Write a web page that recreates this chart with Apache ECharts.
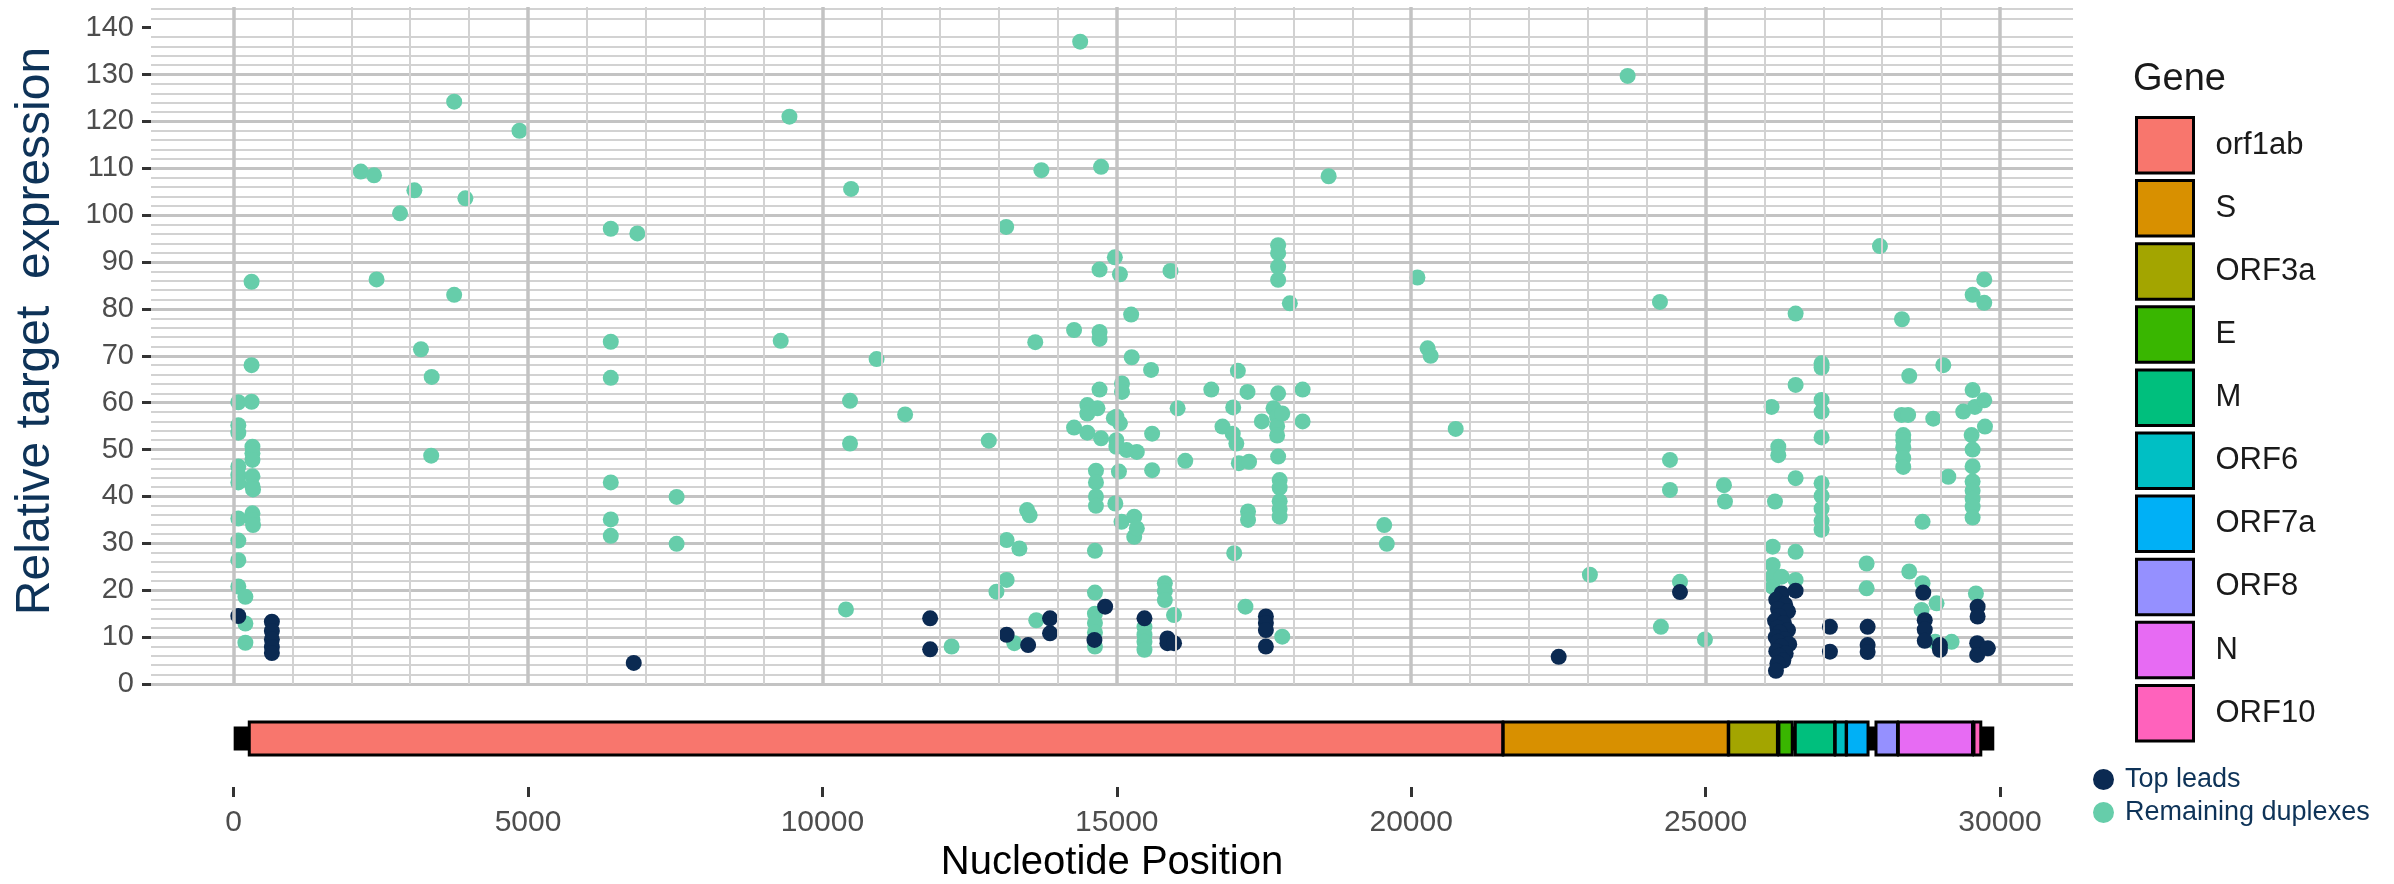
<!DOCTYPE html>
<html><head><meta charset="utf-8">
<script src="https://cdn.jsdelivr.net/npm/echarts@6/dist/echarts.min.js"></script>
<style>html,body{margin:0;padding:0;background:#fff}#c{width:2394px;height:884px}</style>
</head><body><div id="c"></div>
<script>
// ---------------- data ----------------
const geneNames  = ['orf1ab','S','ORF3a','E','M','ORF6','ORF7a','ORF8','N','ORF10'];
const geneStart  = [266, 21563, 25393, 26245, 26523, 27202, 27394, 27894, 28274, 29558];
const geneEnd    = [21555, 25384, 26220, 26472, 27191, 27387, 27759, 28259, 29533, 29674];
const geneColors = ['#F8766D','#D89000','#A3A500','#39B600','#00BF7D','#00BFC4','#00B0F6','#9590FF','#E76BF3','#FF62BC'];
const genomeSpan = [1, 29903];
const xTicks = [0, 5000, 10000, 15000, 20000, 25000, 30000];
const yTicks = [0, 10, 20, 30, 40, 50, 60, 70, 80, 90, 100, 110, 120, 130, 140];

// Top leads (navy)
const leadPos  = [80, 650, 650, 650, 650, 650, 6796,
  11830, 11830, 13129, 13494, 13866, 13866, 14620, 14802, 15470, 15860, 15860, 15972,
  17532, 17532, 17532, 17532, 22505, 24565,
  26290, 26200, 26350, 26230, 26400, 26250, 26180, 26330, 26220, 26400, 26260, 26190, 26350, 26230, 26420, 26280, 26200, 26360, 26250, 26320, 26220, 26195, 26529,
  27112, 27112, 27752, 27752, 27752, 28697, 28722, 28722, 28722, 28980, 28980,
  29620, 29620, 29613, 29613, 29794];
const leadExpr = [14.5, 13.3, 11.3, 9.5, 7.9, 6.6, 4.5,
  14.0, 7.4, 10.5, 8.3, 14.0, 10.8, 9.4, 16.5, 14.0, 9.7, 8.7, 8.7,
  14.4, 13.0, 11.5, 8.0, 5.8, 19.6,
  19.3, 18.0, 17.0, 16.0, 15.5, 14.5, 13.5, 13.0, 12.0, 11.5, 11.0, 10.0, 9.5, 9.0, 8.5, 8.0, 7.0, 6.5, 6.0, 5.0, 4.4, 2.8, 19.9,
  12.2, 6.9, 12.2, 8.3, 6.8, 19.5, 13.6, 11.6, 9.2, 8.3, 7.3,
  16.5, 14.4, 8.7, 6.2, 7.6];

// Remaining duplexes (teal)
const dupPos = [
  80, 80, 80, 80, 80, 80, 80, 80, 80, 80,
  200, 200, 200,
  305, 305, 305, 320, 320, 320, 320, 320, 330, 320, 320, 330,
  2160, 2385, 2428, 2827, 3070, 3182, 3364, 3356, 3746, 3746, 3936, 4855,
  6406, 6857, 6406, 6406, 6406, 6406, 6406, 7524, 7524,
  9292, 9440, 10487, 10469, 10469, 10400, 10920, 11405,
  12194, 12826, 12956, 13129, 13121, 13129, 13346, 13259, 13476, 13520, 13615, 13719, 13632,
  14378, 14274, 14274, 14499, 14499, 14499, 14672, 14707, 14707, 14707, 14707, 14733, 14733,
  14646, 14646, 14646, 14646, 14629, 14629, 14629, 14629, 14629, 14629,
  14950, 14993, 14993, 14993, 15053, 15053, 14967, 15088, 15088, 15036, 14975, 15080, 15166,
  15244, 15253, 15296, 15296, 15340, 15340, 15470, 15470, 15470, 15470, 15582, 15600, 15600,
  15816, 15816, 15816, 15912, 15972, 16033, 16163,
  16605, 16795, 16969, 16977, 17030, 17056, 17073, 16994, 17220, 17246, 17229, 17229, 17185,
  17463, 17662, 17723, 17723, 17723, 17740, 17740, 17740, 17740, 17740, 17740,
  17766, 17766, 17766, 17766, 17766, 17810, 17810, 17939, 18156, 18156, 18598,
  19542, 19586, 20106, 20279, 20330, 20756, 23035, 23676,
  24225, 24395, 24395, 24565, 24241, 24989, 25312, 25329,
  26121, 26235, 26235, 26529, 26529, 26529, 26178, 26139, 26529, 26139, 26139, 26139, 26291, 26529,
  26970, 26970, 26970, 26970, 26970, 26970, 26970, 26970, 26970, 26970,
  27735, 27735, 27961, 28335, 28459, 28329, 28440, 28357, 28357, 28357, 28357, 28357, 28459,
  28685, 28685, 28668, 28867, 28923, 28900, 29037, 29122, 29178,
  29376, 29518, 29535, 29535, 29574, 29535, 29535, 29535, 29535, 29535, 29535, 29535, 29591,
  29733, 29733, 29733, 29745];
const dupExpr = [
  60.1, 55.2, 53.6, 46.4, 44.6, 43.0, 35.3, 30.6, 26.4, 20.8,
  18.6, 12.9, 8.8,
  85.8, 68.0, 60.2, 50.6, 49.2, 47.8, 44.3, 42.2, 41.5, 36.4, 35.0, 33.9,
  109.3, 108.5, 86.3, 100.4, 105.3, 71.4, 65.5, 48.7, 124.2, 83.0, 103.6, 118.0,
  97.1, 96.1, 73.0, 65.3, 43.0, 35.1, 31.6, 39.9, 29.9,
  73.2, 121.0, 105.6, 60.4, 51.3, 15.9, 69.3, 57.5,
  8.0, 51.9, 19.7, 22.2, 97.5, 30.7, 28.9, 8.7, 37.1, 36.0, 72.9, 109.6, 13.6,
  137.0, 75.5, 54.7, 59.5, 57.7, 53.6, 58.8, 88.4, 75.1, 73.6, 62.8, 110.3, 52.4,
  45.5, 43.0, 40.0, 38.0, 28.4, 19.5, 15.0, 13.0, 11.0, 8.0,
  56.7, 57.0, 52.0, 50.6, 55.6, 87.4, 91.0, 64.1, 62.3, 45.3, 38.5, 34.6, 49.9,
  78.8, 69.7, 35.7, 31.4, 49.5, 33.2, 12.2, 10.5, 9.0, 7.3, 67.0, 53.4, 45.6,
  21.5, 19.8, 17.9, 88.1, 14.7, 58.8, 47.6,
  62.8, 54.9, 53.4, 59.0, 51.3, 66.8, 47.1, 27.9, 62.3, 47.4, 36.8, 35.0, 16.5,
  56.0, 58.8, 57.0, 55.0, 53.0, 93.6, 91.9, 89.0, 86.2, 62.0, 48.5,
  43.5, 41.9, 39.0, 37.3, 35.7, 57.7, 10.1, 81.2, 62.8, 56.0, 108.3,
  33.9, 29.9, 86.7, 71.6, 70.0, 54.4, 23.3, 129.7,
  81.5, 47.8, 41.4, 21.8, 12.2, 9.5, 42.4, 38.9,
  59.1, 50.6, 48.8, 79.0, 63.8, 43.9, 38.9, 29.3, 28.2, 25.4, 22.9, 20.7, 22.9, 22.2,
  68.4, 67.5, 60.6, 58.1, 52.6, 42.8, 40.1, 37.4, 34.8, 32.9,
  25.7, 20.4, 93.4, 77.8, 65.7, 57.4, 57.4, 53.1, 52.0, 50.5, 48.2, 46.3, 24.0,
  34.6, 21.5, 15.8, 56.6, 17.2, 9.0, 68.0, 44.2, 9.0,
  58.1, 53.1, 83.0, 62.7, 59.1, 50.0, 46.4, 43.2, 41.2, 39.5, 37.8, 35.5, 19.3,
  86.3, 81.3, 60.5, 54.9];

// ---------------- chart ----------------
const FONT = '"Liberation Sans", Arial, Helvetica, sans-serif';
const NAVY = '#0b2a52', TEAL = '#66cdaa', TITLE_NAVY = '#0e3358';
const X_MIN = -1403, X_MAX = 31240;

const pairs = (xs, ys) => xs.map((x, i) => [x, ys[i]]);

// vertical grid lines (major at xTicks, minor every fifth between them)
const vMajor = xTicks.map(v => ({ xAxis: v, lineStyle: { color: '#c3c3c3', width: 3.5 } }));
const vMinor = [];
for (let i = 1; i < xTicks.length; i++) {
  const step = (xTicks[i] - xTicks[i - 1]) / 5;
  for (let k = 1; k < 5; k++) vMinor.push({ xAxis: xTicks[i - 1] + k * step, lineStyle: { color: '#d2d2d2', width: 2 } });
}

function trackRect(h) {
  return function (params, api) {
    const a = api.coord([api.value(0), 0.5]);
    const b = api.coord([api.value(1), 0.5]);
    return { type: 'rect', shape: { x: a[0], y: a[1] - h / 2, width: b[0] - a[0], height: h }, style: api.style() };
  };
}

const series = [
  { // grid lines holder
    type: 'scatter', xAxisIndex: 0, yAxisIndex: 0, data: [], z: 1, silent: true,
    markLine: { silent: true, symbol: ['none', 'none'], label: { show: false }, animation: false,
      lineStyle: { type: 'solid' }, data: vMinor.concat(vMajor) }
  },
  { name: 'Remaining duplexes', type: 'scatter', xAxisIndex: 0, yAxisIndex: 0, z: 3,
    symbol: 'circle', symbolSize: 16, itemStyle: { color: TEAL, opacity: 1 },
    data: pairs(dupPos, dupExpr) },
  { name: 'Top leads', type: 'scatter', xAxisIndex: 0, yAxisIndex: 0, z: 4,
    symbol: 'circle', symbolSize: 16, itemStyle: { color: NAVY, opacity: 1 },
    data: pairs(leadPos, leadExpr) },
  { name: 'genome', type: 'custom', xAxisIndex: 1, yAxisIndex: 1, z: 2,
    renderItem: trackRect(24), itemStyle: { color: '#000' },
    encode: { x: [0, 1] }, data: [genomeSpan] }
];
geneNames.forEach((g, i) => {
  series.push({
    name: g, type: 'custom', xAxisIndex: 1, yAxisIndex: 1, z: 3,
    renderItem: trackRect(33),
    itemStyle: { color: geneColors[i], borderColor: '#000', borderWidth: 3 },
    encode: { x: [0, 1] },
    data: [[geneStart[i], geneEnd[i]]]
  });
});

const option = {
  animation: false,
  backgroundColor: '#ffffff',
  textStyle: { fontFamily: FONT },
  title: { text: 'Gene', left: 2133, top: 61, padding: 0,
    textStyle: { fontSize: 38, fontWeight: 'normal', color: '#1a1a1a', fontFamily: FONT } },
  grid: [
    { left: 151, right: 321, top: 7, height: 677, containLabel: false },
    { left: 151, right: 321, top: 690, height: 100, containLabel: false }
  ],
  xAxis: [
    { type: 'value', gridIndex: 0, min: X_MIN, max: X_MAX,
      axisLine: { show: false, onZero: false }, axisTick: { show: false }, axisLabel: { show: false },
      splitLine: { show: false } },
    { type: 'value', gridIndex: 1, min: X_MIN, max: X_MAX,
      name: 'Nucleotide Position', nameLocation: 'middle', nameGap: 56,
      nameTextStyle: { fontSize: 40, color: '#000', fontFamily: FONT },
      axisLine: { show: false, onZero: false },
      axisTick: { show: true, length: 10, lineStyle: { color: '#333', width: 3 }, customValues: xTicks },
      axisLabel: { fontSize: 30, color: '#4d4d4d', margin: 21, customValues: xTicks,
        formatter: v => (xTicks.indexOf(v) >= 0 ? String(v) : '') },
      splitLine: { show: false } }
  ],
  yAxis: [
    { type: 'value', gridIndex: 0, min: 0, max: 144.4, interval: 10,
      axisLine: { show: false, onZero: false },
      axisTick: { show: true, length: 9, lineStyle: { color: '#333', width: 3 }, customValues: yTicks },
      axisLabel: { fontSize: 29, color: '#4d4d4d', margin: 17, customValues: yTicks,
        formatter: v => (yTicks.indexOf(v) >= 0 ? String(v) : '') },
      splitLine: { show: true, showMaxLine: false, lineStyle: { color: '#c3c3c3', width: 3 } },
      minorTick: { show: false, splitNumber: 5 },
      minorSplitLine: { show: true, lineStyle: { color: '#d2d2d2', width: 2 } } },
    { type: 'value', gridIndex: 1, min: 0, max: 1, show: false }
  ],
  legend: [
    { data: geneNames.map(n => ({ name: n, icon: 'rect' })),
      orient: 'vertical', left: 2135, top: 116, padding: 0,
      itemWidth: 57, itemHeight: 55.5, itemGap: 4.6, selectedMode: false,
      itemStyle: { borderColor: '#000', borderWidth: 3 },
      textStyle: { fontSize: 31, color: '#1a1a1a', padding: [0, 0, 0, 17], fontFamily: FONT } },
    { data: [{ name: 'Top leads', icon: 'circle' }, { name: 'Remaining duplexes', icon: 'circle' }],
      orient: 'vertical', left: 2093, top: 766, padding: 0,
      itemWidth: 21, itemHeight: 21, itemGap: 6, selectedMode: false,
      textStyle: { fontSize: 27, color: TITLE_NAVY, padding: [0, 0, 0, 6], fontFamily: FONT } }
  ],
  graphic: [
    { type: 'text', x: 36, y: 331, rotation: Math.PI / 2,
      style: { text: 'Relative target  expression', fontSize: 48, fill: TITLE_NAVY,
        fontFamily: FONT, align: 'center', verticalAlign: 'middle' } }
  ],
  series: series
};

const chart = echarts.init(document.getElementById('c'), null, { renderer: 'canvas' });
chart.setOption(option);
</script></body></html>
